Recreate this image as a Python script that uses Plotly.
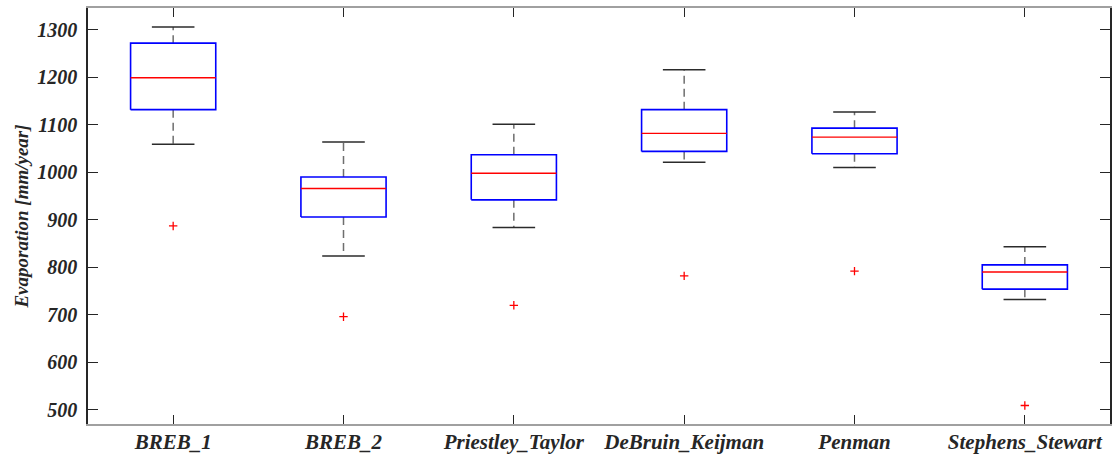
import plotly.graph_objects as go

# Annual evaporation estimates per method (mm/year)
methods = ["BREB_1", "BREB_2", "Priestley_Taylor", "DeBruin_Keijman", "Penman", "Stephens_Stewart"]
lower_whisker = [1059, 824, 884, 1021, 1010, 732]
q1 = [1132, 906, 942, 1044, 1039, 754]
median = [1199, 966, 998, 1082, 1074, 790]
q3 = [1272, 990, 1037, 1132, 1093, 805]
upper_whisker = [1306, 1064, 1101, 1216, 1127, 843]
outliers = [887, 696, 720, 782, 792, 509]

y_ticks = [500, 600, 700, 800, 900, 1000, 1100, 1200, 1300]

positions = list(range(1, len(methods) + 1))
half_box = 0.25
half_cap = 0.125

box_x, box_y = [], []
med_x, med_y = [], []
wh_x, wh_y = [], []
cap_x, cap_y = [], []
for p, lo, a, m, b, hi in zip(positions, lower_whisker, q1, median, q3, upper_whisker):
    box_x += [p - half_box, p + half_box, p + half_box, p - half_box, p - half_box, None]
    box_y += [a, a, b, b, a, None]
    med_x += [p - half_box, p + half_box, None]
    med_y += [m, m, None]
    wh_x += [p, p, None, p, p, None]
    wh_y += [b, hi, None, a, lo, None]
    cap_x += [p - half_cap, p + half_cap, None, p - half_cap, p + half_cap, None]
    cap_y += [hi, hi, None, lo, lo, None]

fig = go.Figure()
fig.add_trace(go.Scatter(x=wh_x, y=wh_y, mode="lines",
                         line=dict(color="#6e6e6e", width=1.5, dash="8px,5px"),
                         hoverinfo="skip"))
fig.add_trace(go.Scatter(x=cap_x, y=cap_y, mode="lines",
                         line=dict(color="#2b2b2b", width=1.5), hoverinfo="skip"))
fig.add_trace(go.Scatter(x=box_x, y=box_y, mode="lines",
                         line=dict(color="#0000ff", width=1.6), hoverinfo="skip"))
fig.add_trace(go.Scatter(x=med_x, y=med_y, mode="lines",
                         line=dict(color="#ff0000", width=1.4), hoverinfo="skip"))
fig.add_trace(go.Scatter(x=positions, y=outliers, mode="markers",
                         marker=dict(symbol="cross-thin", size=6,
                                     line=dict(color="#ff0000", width=1.3)),
                         hoverinfo="skip"))

def serif(size):
    return dict(family="Liberation Serif", size=size, color="#262626",
                weight="bold", style="italic")

fig.update_layout(
    width=1113, height=456,
    margin=dict(l=88, r=3, t=8, b=32),
    paper_bgcolor="white", plot_bgcolor="white",
    showlegend=False,
    font=serif(18),
)
fig.update_xaxes(
    range=[0.5, 6.5], tickvals=positions, ticktext=methods,
    showgrid=False, zeroline=False, automargin=False,
    showline=True, linecolor="#a0a0a0", linewidth=1.5,
    mirror="ticks", ticks="inside", ticklen=9, tickwidth=1.2, tickcolor="#262626",
    tickfont=serif(21), ticklabelstandoff=-2,
)
fig.update_yaxes(
    range=[470, 1346], tickvals=y_ticks,
    showgrid=False, zeroline=False, automargin=False,
    showline=True, linecolor="#262626", linewidth=1.5,
    mirror="all", ticks="inside", ticklen=10, tickwidth=1.2, tickcolor="#262626",
    tickfont=serif(20), ticklabelstandoff=5,
    title=dict(text="Evaporation [mm/year]", standoff=4, font=serif(19)),
)

fig.write_html("out.html")
